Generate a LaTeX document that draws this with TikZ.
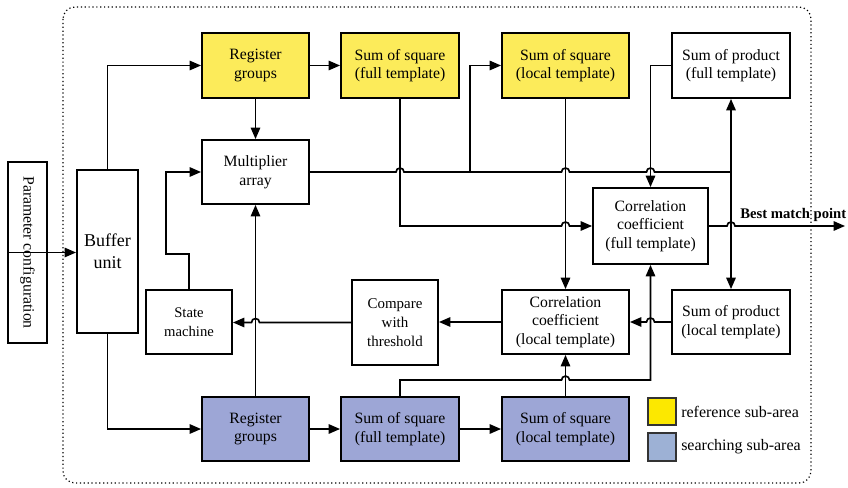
\documentclass[tikz,border=0pt]{standalone}
\usepackage{fontspec}
\setmainfont{Liberation Serif}
\usetikzlibrary{arrows.meta,calc}
\definecolor{refyellow}{HTML}{FCEB5A}
\definecolor{searchblue}{HTML}{9DA6D6}
\definecolor{legyellow}{HTML}{FCE800}
\definecolor{legblue}{HTML}{9DB1D5}
\tikzset{
  boxsize/.style 2 args={minimum width=#1*0.75pt, minimum height=#2*0.75pt},
  block/.style={draw, line width=1.4pt, align=center, inner sep=1pt, font=\fontsize{11.8}{14}\selectfont},
  refblock/.style={block, fill=refyellow},
  searchblock/.style={block, fill=searchblue},
  wire/.style={line width=1.25pt},
  arrow/.style={wire, -{Triangle[length=8.5pt,width=7pt]}},
}
\newcommand\hopr[1]{-- ($(#1)+(-4,0)$) arc[start angle=180,end angle=0,radius=3pt]}
\newcommand\hopl[1]{-- ($(#1)+(4,0)$) arc[start angle=0,end angle=180,radius=3pt]}
\begin{document}
\begin{tikzpicture}[x=0.75pt, y=-0.75pt]
\useasboundingbox (0,0) rectangle (848,488);
\draw[dotted, line width=0.9pt, rounded corners=9pt] (63,7) rectangle (811,483);
\node[block, boxsize={181}{39}, rotate=-90] (param) at (27.5,252.5) {Parameter configuration};
\node[block, boxsize={61}{163}, font=\fontsize{13.5}{16.5}\selectfont] (buffer) at (107.5,251.5) {Buffer\\unit};
\node[refblock, boxsize={107}{65}] (regref) at (255.5,65.5) {Register\\groups};
\node[refblock, boxsize={118}{65}] (sqfullref) at (400,65.5) {Sum of square\\(full template)};
\node[refblock, boxsize={127}{65}] (sqlocref) at (565.5,65.5) {Sum of square\\(local template)};
\node[block, boxsize={118}{65}] (prodfull) at (731,65.5) {Sum of product\\(full template)};
\node[block, boxsize={107}{64}] (mult) at (255.5,172) {Multiplier\\array};
\node[block, boxsize={115}{76}] (corrfull) at (650.5,226) {Correlation\\coefficient\\(full template)};
\node[block, boxsize={86}{64}, font=\fontsize{11}{14}\selectfont] (state) at (189,322) {State\\machine};
\node[block, boxsize={86}{85}, font=\fontsize{11.2}{14}\selectfont] (cmp) at (395,322.5) {Compare\\with\\threshold};
\node[block, boxsize={127}{64}] (corrloc) at (565.5,322) {Correlation\\coefficient\\(local template)};
\node[block, boxsize={118}{64}] (prodloc) at (731,322) {Sum of product\\(local template)};
\node[searchblock, boxsize={107}{64}] (regsrc) at (255.5,429) {Register\\groups};
\node[searchblock, boxsize={118}{64}] (sqfullsrc) at (400,429) {Sum of square\\(full template)};
\node[searchblock, boxsize={127}{64}] (sqlocsrc) at (565.5,429) {Sum of square\\(local template)};
\node[draw=black!80, line width=0.8pt, fill=legyellow, boxsize={28}{27}] (legref) at (662,411.5) {};
\node[draw=black!80, line width=0.8pt, fill=legblue, boxsize={28}{28}] (legsrc) at (662,447) {};
\node[anchor=west, font=\fontsize{12}{14}\selectfont] (legreftxt) at (legref.east) {reference sub-area};
\node[anchor=west, font=\fontsize{12}{14}\selectfont] (legsrctxt) at (legsrc.east) {searching sub-area};
\node[anchor=west, inner sep=0pt, font=\fontsize{11}{13}\selectfont\bfseries] (bestlbl) at (740,215) {Best match point};
\coordinate (out) at (845,226);
\coordinate (branch) at (470,172);
\coordinate (busend) at (prodfull.south |- mult.east);
\draw[arrow] (param.south) -- (param.south -| buffer.west);
\draw[arrow] (buffer.north) |- (regref.west);
\draw[arrow] (buffer.south) |- (regsrc.west);
\draw[arrow] (regref) -- (sqfullref);
\draw[arrow] (regref) -- (mult);
\draw[arrow] (regsrc) -- (sqfullsrc);
\draw[arrow] (sqfullsrc) -- (sqlocsrc);
\draw[arrow] (regsrc.north) -- (mult.south);
\draw[arrow] (state.north) -- ++(0,-35) -- ++(-23,0) |- (mult.west);
\draw[wire] (mult.east) \hopr{sqfullref.south |- mult.east} \hopr{sqlocref.south |- mult.east} \hopr{corrfull.north |- mult.east} -- (busend);
\draw[arrow] (busend) -- (prodfull.south);
\draw[arrow] (busend) -- (prodloc.north);
\draw[arrow] (branch) |- (sqlocref.west);
\draw[arrow] (sqfullref.south) -- (sqfullref.south |- corrfull.west) \hopr{sqlocref.south |- corrfull.west} -- (corrfull.west);
\draw[arrow] (sqlocref.south) -- (corrloc.north);
\draw[arrow] (prodfull.west) -| (corrfull.north);
\draw[arrow] (corrfull.east) \hopr{prodfull.south |- corrfull.east} -- (out);
\draw[arrow] (prodloc.west) \hopl{corrfull.south |- prodloc.west} -- (corrloc.east);
\draw[arrow] (corrloc.west) -- (cmp.east |- corrloc.west);
\draw[arrow] (cmp.west) \hopl{mult.south |- cmp.west} -- (state.east |- cmp.west);
\draw[arrow] (sqfullsrc.north) -- ++(0,-16) coordinate (lift) \hopr{sqlocsrc.north |- lift} -| (corrfull.south);
\draw[arrow] (sqlocsrc.north) -- (corrloc.south);
\end{tikzpicture}
\end{document}
